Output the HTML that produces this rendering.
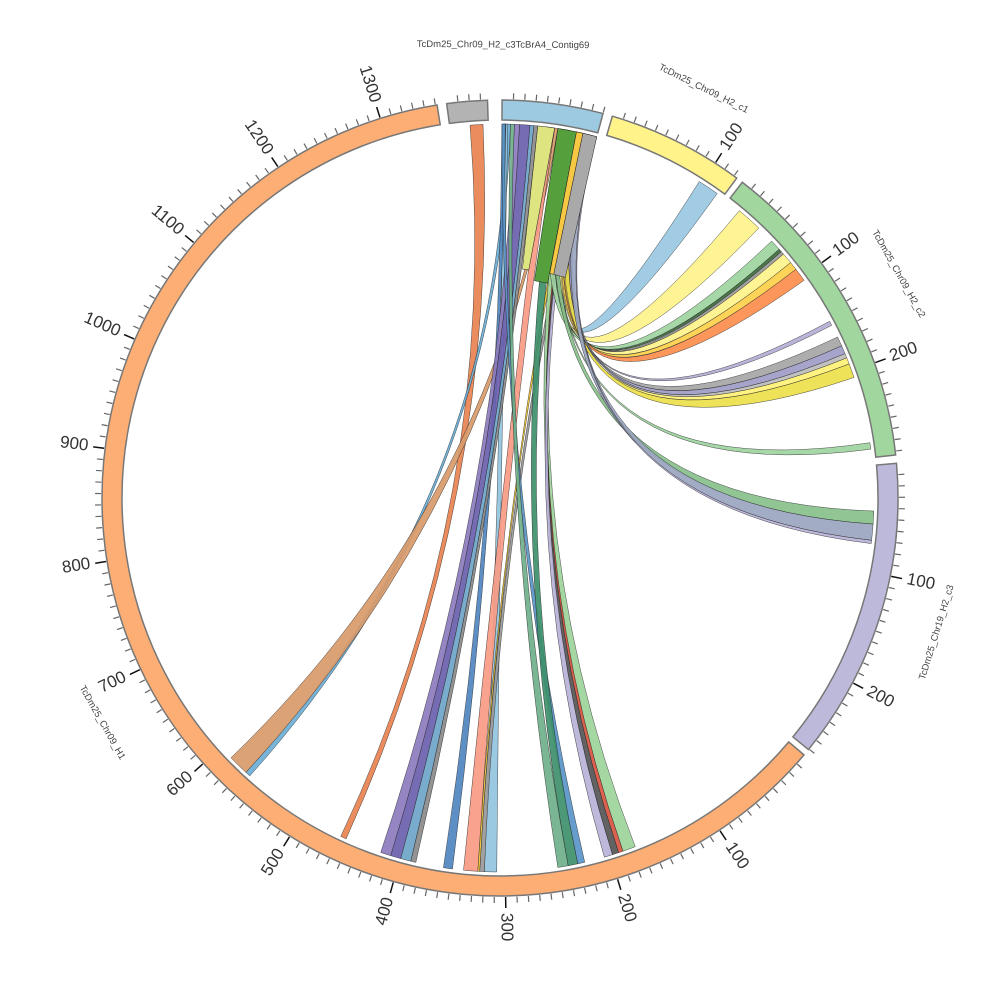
<!DOCTYPE html>
<html><head><meta charset="utf-8"><style>
html,body{margin:0;padding:0;background:#fff}
svg{display:block}
text{font-family:"Liberation Sans","DejaVu Sans",sans-serif}
</style></head><body>
<svg id="s" width="1000" height="1000" viewBox="0 0 1000 1000" xmlns="http://www.w3.org/2000/svg"></svg>
<script>
var S=document.getElementById('s'),NS='http://www.w3.org/2000/svg';
var CX=500,CY=498,RO=398,RI=378,RR=374;
function P(r,a){var t=a*Math.PI/180;return [CX+r*Math.sin(t),CY-r*Math.cos(t)];}
function el(n,at,txt){var e=document.createElementNS(NS,n);for(var k in at)e.setAttribute(k,at[k]);if(txt)e.textContent=txt;S.appendChild(e);return e;}
function f(p){return p[0].toFixed(2)+' '+p[1].toFixed(2);}
var R=[
[-4.6,-2.6,204.3,205.2,'#e8824f'],
[1.0,1.6,222.0,222.8,'#6aaed6'],
[8.4,8.9,222.8,226.0,'#d89a6a'],
[0.6,1.2,180.5,182.4,'#93c4e0'],
[7.0,8.4,183.4,185.6,'#f99b85'],
[11.8,12.3,183.1,183.4,'#f2c62f'],
[13.0,13.6,182.4,183.1,'#999999'],
[0.3,0.9,187.3,188.7,'#4f86c0'],
[4.6,5.2,193.8,195.4,'#6ea5c8'],
[5.2,5.8,193.0,193.8,'#8a8a8a'],
[3.0,4.6,195.4,197.0,'#6a5fae'],
[2.2,3.0,197.0,198.6,'#8c7bbd'],
[10.5,11.5,158.8,160.8,'#9dd49a'],
[11.5,11.8,160.8,161.5,'#d9543f'],
[11.8,12.2,161.5,162.5,'#555555'],
[12.2,12.8,162.5,163.8,'#b8b2d8'],
[0.3,0.8,166.9,168.0,'#5a95c8'],
[8.9,10.5,168.0,169.5,'#3d8f6b'],
[1.6,2.2,169.5,171.1,'#6fb08a'],
[13.6,15.0,32.2,35.5,'#9ac8e2'],
[11.5,13.0,39.8,43.8,'#fff38a'],
[9.0,10.5,46.6,48.3,'#9ed49e'],
[10.5,10.8,48.3,48.8,'#3c6b3c'],
[12.8,13.1,48.8,49.3,'#999999'],
[11.8,12.6,49.3,51.0,'#fff38a'],
[12.0,12.8,51.0,52.3,'#fdd049'],
[12.3,13.3,52.3,54.4,'#fd8d4c'],
[13.0,13.3,61.8,62.5,'#b4aed6'],
[12.8,13.8,64.5,66.0,'#a6a6a6'],
[13.3,14.0,66.0,67.3,'#a09cc8'],
[13.8,14.2,67.3,68.0,'#bcbcbc'],
[11.8,12.4,68.0,69.0,'#fff176'],
[12.0,13.2,69.0,71.2,'#ebe04a'],
[10.0,10.3,81.5,82.5,'#9ed49e'],
[9.5,10.5,92.0,94.0,'#88c08a'],
[13.5,14.8,94.0,96.5,'#9aa5bf'],
[14.8,15.0,96.5,97.0,'#b8b2d8']
];
R.forEach(function(r){
 var a1=r[0],a2=r[1],b1=r[2],b2=r[3];
 var d='M'+f(P(RR,a1))+' A'+RR+' '+RR+' 0 0 1 '+f(P(RR,a2))+' Q'+CX+' '+CY+' '+f(P(RR,b1))+' A'+RR+' '+RR+' 0 0 1 '+f(P(RR,b2))+' Q'+CX+' '+CY+' '+f(P(RR,a1))+'Z';
 el('path',{d:d,fill:r[4],'fill-opacity':0.92,stroke:'#222','stroke-width':0.5,'stroke-opacity':0.8});
});
el('path',{d:'M'+f(P(RR,5.8))+' A'+RR+' '+RR+' 0 0 1 '+f(P(RR,8.4))+' L'+f(P(230,7.2))+' L'+f(P(230,5.6))+'Z',fill:'#dde480',stroke:'#222','stroke-width':0.5});
el('path',{d:'M'+f(P(RR,8.9))+' A'+RR+' '+RR+' 0 0 1 '+f(P(RR,11.8))+' L'+f(P(220,12.5))+' L'+f(P(220,9.0))+'Z',fill:'#55a03c',stroke:'#222','stroke-width':0.5});
el('path',{d:'M'+f(P(RR,12.8))+' A'+RR+' '+RR+' 0 0 1 '+f(P(RR,15.0))+' L'+f(P(230,16.5))+' L'+f(P(230,13.5))+'Z',fill:'#a9a9a9',stroke:'#222','stroke-width':0.5});
el('path',{d:'M'+f(P(RR,11.8))+' A'+RR+' '+RR+' 0 0 1 '+f(P(RR,12.8))+' L'+f(P(230,13.5))+' L'+f(P(230,12.5))+'Z',fill:'#f7c843',stroke:'#222','stroke-width':0.5});
var SEG=[
 {a:-7.7,b:-1.8,len:35,c:'#b3b3b3',lab:false},
 {a:0.3,b:15.0,len:90,c:'#9ecae1',lab:false},
 {a:16.4,b:36.5,len:123,c:'#fff38a',lab:true,name:'TcDm25_Chr09_H2_c1'},
 {a:37.5,b:83.8,len:283,c:'#a1d69f',lab:true,name:'TcDm25_Chr09_H2_c2'},
 {a:85.0,b:129.2,len:270,c:'#bcb9db',lab:true,name:'TcDm25_Chr19_H2_c3'},
 {a:130.2,b:350.9,len:1352,c:'#fdae74',lab:true,name:'TcDm25_Chr09_H1'}
];
var SC=0.1633;
SEG.forEach(function(s){
 var big=(s.b-s.a)>180?1:0;
 var d='M'+f(P(RO,s.a))+' A'+RO+' '+RO+' 0 '+big+' 1 '+f(P(RO,s.b))+' L'+f(P(RI,s.b))+' A'+RI+' '+RI+' 0 '+big+' 0 '+f(P(RI,s.a))+'Z';
 el('path',{d:d,fill:s.c,stroke:'#777','stroke-width':1.5});
 var n=Math.floor(s.len/10);
 for(var i=1;i<=n;i++){
  var a=s.a+i*10*SC; if(a>s.b+0.01)break;
  var maj=(i%10==0);
  el('line',{x1:P(RO+1,a)[0],y1:P(RO+1,a)[1],x2:P(RO+(maj?12:7),a)[0],y2:P(RO+(maj?12:7),a)[1],stroke:maj?'#111':'#666','stroke-width':maj?1.5:1.2});
  if(maj&&s.lab){
   var p=P(RO+17,a),rot,anc;
   var aa=((a%360)+360)%360;
   if(aa<180){rot=aa-90;anc='start';}else{rot=aa+90;anc='end';}
   el('text',{x:p[0],y:p[1],'font-size':17,fill:'#333','text-anchor':anc,'dominant-baseline':'middle',transform:'rotate('+rot+' '+p[0]+' '+p[1]+')'},String(i*10));
  }
 }
 if(s.lab){
  var m=(s.a+s.b)/2,q=P(457,m),r2=(m>90&&m<270)?m-180:m;
  el('text',{x:q[0],y:q[1],'font-size':9.5,fill:'#444','text-anchor':'middle','dominant-baseline':'middle',transform:'rotate('+r2+' '+q[0]+' '+q[1]+')'},s.name);
 }
});
var q=P(453,0.4);
el('text',{x:q[0],y:q[1],'font-size':9.5,fill:'#444','text-anchor':'middle','dominant-baseline':'middle',transform:'rotate(0.4 '+q[0]+' '+q[1]+')'},'TcDm25_Chr09_H2_c3TcBrA4_Contig69');
</script>
</body></html>
